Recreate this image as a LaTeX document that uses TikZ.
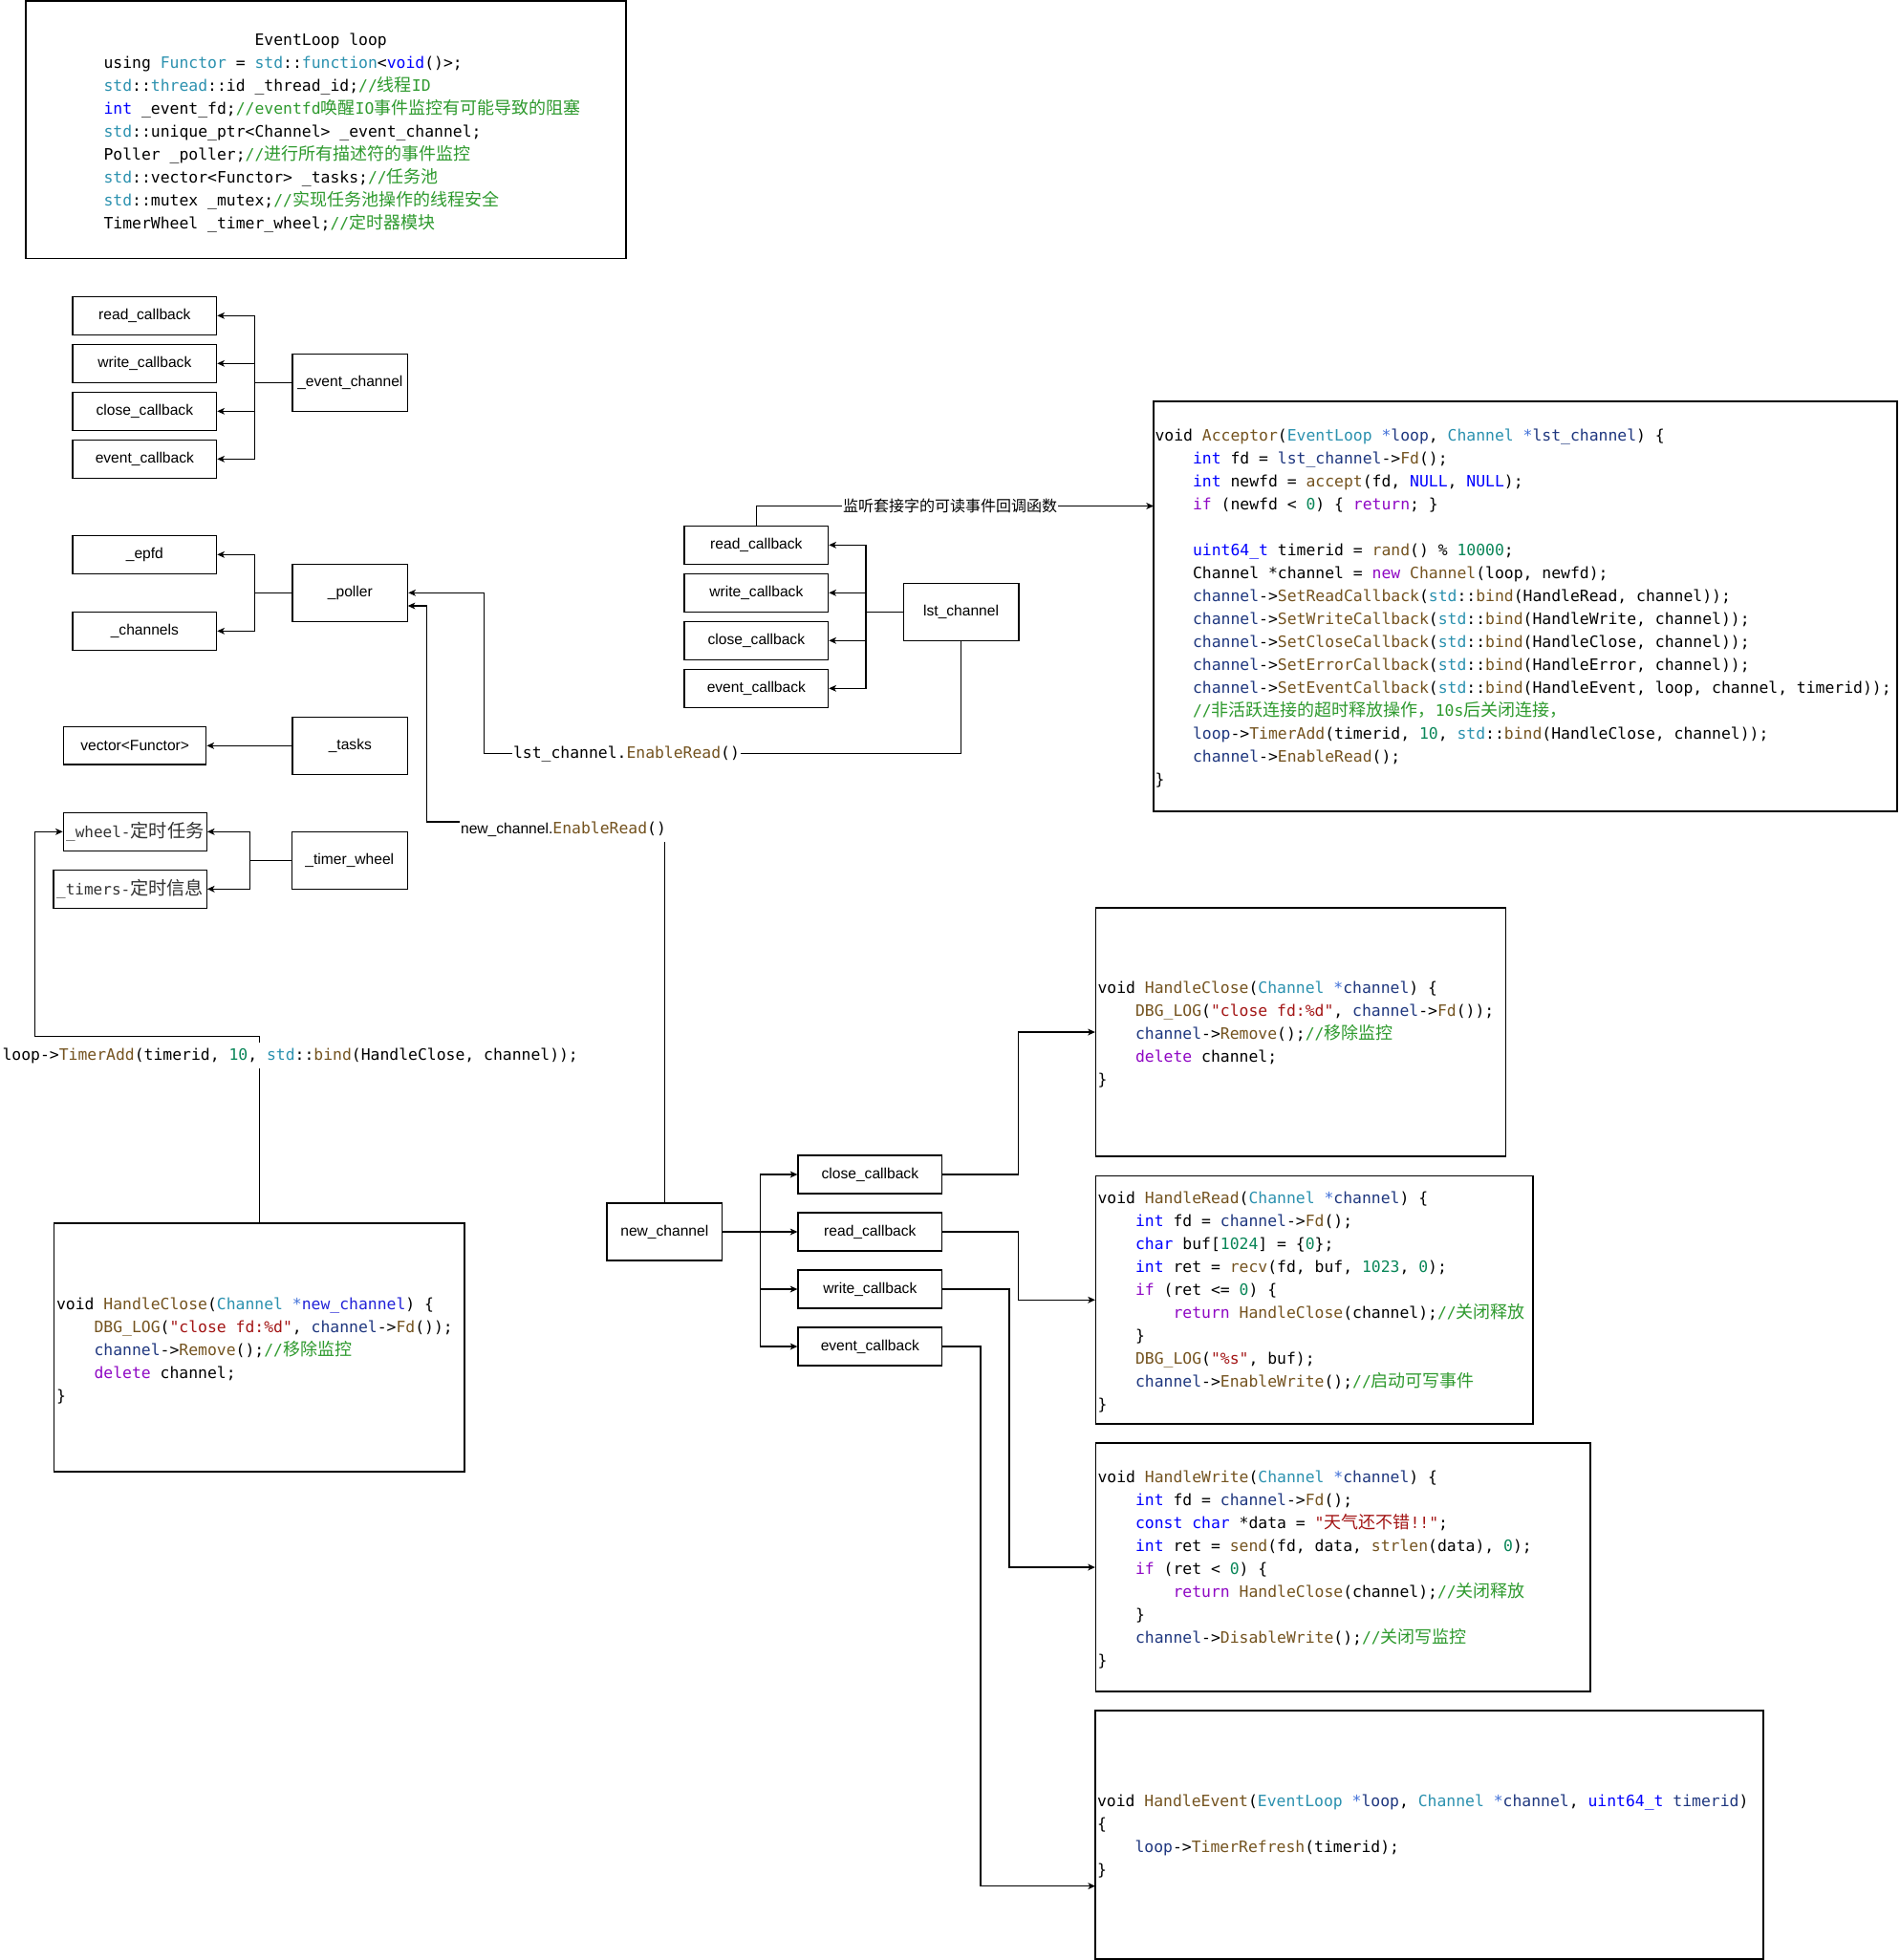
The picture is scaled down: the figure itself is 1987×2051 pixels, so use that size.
\documentclass[tikz,border=0pt]{standalone}
\usepackage{fontspec}
\setmonofont{DejaVu Sans Mono}
\newfontfamily\arialf{Liberation Sans}
\newfontfamily\zhf{Noto Sans CJK SC}
\usetikzlibrary{arrows.meta}
\definecolor{ckw}{HTML}{0000FF}
\definecolor{cty}{HTML}{2B91AF}
\definecolor{cfn}{HTML}{74531F}
\definecolor{cvar}{HTML}{1F377F}
\definecolor{cvarb}{HTML}{2323D8}
\definecolor{cstar}{HTML}{3F6FD8}
\definecolor{cctl}{HTML}{8F08C4}
\definecolor{cnum}{HTML}{098658}
\definecolor{ccom}{HTML}{2E9A2E}
\definecolor{cstr}{HTML}{A31515}
\definecolor{dgrey}{HTML}{333333}
\newcommand\kwd[1]{\textcolor{ckw}{#1}}
\newcommand\typ[1]{\textcolor{cty}{#1}}
\newcommand\fnn[1]{\textcolor{cfn}{#1}}
\newcommand\vrb[1]{\textcolor{cvar}{#1}}
\newcommand\vrbb[1]{\textcolor{cvarb}{#1}}
\newcommand\sr[1]{\textcolor{cstar}{#1}}
\newcommand\ctl[1]{\textcolor{cctl}{#1}}
\newcommand\nm[1]{\textcolor{cnum}{#1}}
\newcommand\cmt[1]{\textcolor{ccom}{#1}}
\newcommand\strg[1]{\textcolor{cstr}{#1}}
\newcommand\zh[1]{{\zhf\fontsize{9}{12}\selectfont #1}}
\newcommand\codefont{\ttfamily\fontsize{8.2}{12}\selectfont\frenchspacing}
\newcommand\lblfont{\arialf\fontsize{7.8}{9}\selectfont}
\newcommand\fst{\rule{0pt}{9pt}}
\newcommand\spA{\phantom{xxxx}}
\newcommand\spB{\phantom{xxxxxxxx}}
\begin{document}
\begin{tikzpicture}[x=0.5pt,y=-0.5pt,
  line width=0.6pt,
  arr/.style={-{Stealth[length=3.8pt,width=3.4pt,inset=1pt]}},
  bx/.style={draw, fill=white, inner sep=0pt, font=\lblfont},
  cb/.style={bx, minimum width=75.35pt, minimum height=20pt},
  chb/.style={bx, minimum width=60.35pt, minimum height=30pt},
  codebox/.style={draw, inner sep=0pt},
  ctext/.style={anchor=north west, inner sep=0pt, align=left, font=\codefont},
  elbl/.style={fill=white, inner xsep=0.5pt, inner ysep=2pt, text height=7pt, text depth=2pt, font=\codefont},
]
\useasboundingbox (0,0) rectangle (1987,2051);
\fill[white] (0,0) rectangle (1987,2051);

% ---------- top EventLoop box ----------
\node[codebox, minimum width=314pt, minimum height=134.75pt] (topbox) at (341,135.75) {};
\node[ctext] (toptext) at (108,28.5) {\fst\phantom{xxxxxxxxxxxxxxxx}EventLoop loop\\
using \typ{Functor} = \typ{std}::\typ{function}<\kwd{void}()>;\\
\typ{std}::\typ{thread}::id \_thread\_id;\cmt{//\zh{线程}ID}\\
\kwd{int} \_event\_fd;\cmt{//eventfd\zh{唤醒}IO\zh{事件监控有可能导致的阻塞}}\\
\typ{std}::unique\_ptr<Channel> \_event\_channel;\\
Poller \_poller;\cmt{//\zh{进行所有描述符的事件监控}}\\
\typ{std}::vector<Functor> \_tasks;\cmt{//\zh{任务池}}\\
\typ{std}::mutex \_mutex;\cmt{//\zh{实现任务池操作的线程安全}}\\
TimerWheel \_timer\_wheel;\cmt{//\zh{定时器模块}}};

% ---------- left structure boxes ----------
\node[cb] (rcbA) at (151.35,330.3) {read\_callback};
\node[cb] (wcbA) at (151.35,380.3) {write\_callback};
\node[cb] (ccbA) at (151.35,430.3) {close\_callback};
\node[cb] (ecbA) at (151.35,480.3) {event\_callback};
\node[chb] (evch) at (366.35,400.3) {\_event\_channel};

\node[cb] (epfd) at (151.35,580.3) {\_epfd};
\node[cb] (chans) at (151.35,660.3) {\_channels};
\node[chb] (poller) at (366.35,620.3) {\_poller};

\node[cb, minimum width=74.6pt, minimum height=19.6pt] (vecf) at (141.2,780.3) {vector<Functor>};
\node[chb] (tasks) at (366.35,780.3) {\_tasks};

\node[cb, minimum width=75pt] (wheel) at (141.3,870.3) {{\color{dgrey}\ttfamily\fontsize{8}{10}\selectfont\_wheel-{\zhf\fontsize{9.6}{10}\selectfont 定时任务}}};
\node[cb, minimum width=80.15pt] (timers) at (136.15,930.3) {{\color{dgrey}\ttfamily\fontsize{8}{10}\selectfont\_timers-{\zhf\fontsize{9.6}{10}\selectfont 定时信息}}};
\node[chb] (tw) at (365.8,900.3) {\_timer\_wheel};

% ---------- lst_channel group ----------
\node[cb] (rcbB) at (791.35,570.3) {read\_callback};
\node[cb] (wcbB) at (791.35,620.3) {write\_callback};
\node[cb] (ccbB) at (791.35,670.3) {close\_callback};
\node[cb] (ecbB) at (791.35,720.3) {event\_callback};
\node[chb] (lstch) at (1005.6,640.3) {lst\_channel};

% ---------- new_channel group ----------
\node[chb] (newch) at (695.3,1289) {new\_channel};
\node[cb] (ccbC) at (910.35,1229) {close\_callback};
\node[cb] (rcbC) at (910.35,1289) {read\_callback};
\node[cb] (wcbC) at (910.35,1349) {write\_callback};
\node[cb] (ecbC) at (910.35,1409) {event\_callback};

% ---------- code boxes ----------
\node[codebox, minimum width=389pt, minimum height=214.5pt] (acc) at (1596,634.5) {};
\node[ctext] (acctext) at (1208,443) {\fst void \fnn{Acceptor}(\typ{EventLoop} \sr{*}\vrb{loop}, \typ{Channel} \sr{*}\vrb{lst\_channel}) \{\\
\spA\kwd{int} fd = \vrb{lst\_channel}->\fnn{Fd}();\\
\spA\kwd{int} newfd = \fnn{accept}(fd, \kwd{NULL}, \kwd{NULL});\\
\spA\ctl{if} (newfd < \nm{0}) \{ \ctl{return}; \}\\
\mbox{}\\
\spA\kwd{uint64\_t} timerid = \fnn{rand}() \% \nm{10000};\\
\spA Channel *channel = \ctl{new} \fnn{Channel}(loop, newfd);\\
\spA\vrb{channel}->\fnn{SetReadCallback}(\typ{std}::\fnn{bind}(HandleRead, channel));\\
\spA\vrb{channel}->\fnn{SetWriteCallback}(\typ{std}::\fnn{bind}(HandleWrite, channel));\\
\spA\vrb{channel}->\fnn{SetCloseCallback}(\typ{std}::\fnn{bind}(HandleClose, channel));\\
\spA\vrb{channel}->\fnn{SetErrorCallback}(\typ{std}::\fnn{bind}(HandleError, channel));\\
\spA\vrb{channel}->\fnn{SetEventCallback}(\typ{std}::\fnn{bind}(HandleEvent, loop, channel, timerid));\\
\spA\cmt{//\zh{非活跃连接的超时释放操作，}10s\zh{后关闭连接，}}\\
\spA\vrb{loop}->\fnn{TimerAdd}(timerid, \nm{10}, \typ{std}::\fnn{bind}(HandleClose, channel));\\
\spA\vrb{channel}->\fnn{EnableRead}();\\
\}};

\node[codebox, minimum width=214.5pt, minimum height=130pt] (hcl) at (1361,1080) {};
\node[ctext] (hcltext) at (1148,1021) {\fst void \fnn{HandleClose}(\typ{Channel} \sr{*}\vrb{channel}) \{\\
\spA\fnn{DBG\_LOG}(\strg{"close fd:\%d"}, \vrb{channel}->\fnn{Fd}());\\
\spA\vrb{channel}->\fnn{Remove}();\cmt{//\zh{移除监控}}\\
\spA\ctl{delete} channel;\\
\}};

\node[codebox, minimum width=228.75pt, minimum height=129.75pt] (hrd) at (1375.25,1360.25) {};
\node[ctext] (hrdtext) at (1148,1241) {\fst void \fnn{HandleRead}(\typ{Channel} \sr{*}\vrb{channel}) \{\\
\spA\kwd{int} fd = \vrb{channel}->\fnn{Fd}();\\
\spA\kwd{char} buf[\nm{1024}] = \{\nm{0}\};\\
\spA\kwd{int} ret = \fnn{recv}(fd, buf, \nm{1023}, \nm{0});\\
\spA\ctl{if} (ret <= \nm{0}) \{\\
\spB\ctl{return} \fnn{HandleClose}(channel);\cmt{//\zh{关闭释放}}\\
\spA\}\\
\spA\fnn{DBG\_LOG}(\strg{"\%s"}, buf);\\
\spA\vrb{channel}->\fnn{EnableWrite}();\cmt{//\zh{启动可写事件}}\\
\}};

\node[codebox, minimum width=258.75pt, minimum height=130pt] (hwr) at (1405.25,1640) {};
\node[ctext] (hwrtext) at (1148,1533) {\fst void \fnn{HandleWrite}(\typ{Channel} \sr{*}\vrb{channel}) \{\\
\spA\kwd{int} fd = \vrb{channel}->\fnn{Fd}();\\
\spA\kwd{const} \kwd{char} *data = \strg{"\zh{天气还不错}!!"};\\
\spA\kwd{int} ret = \fnn{send}(fd, data, \fnn{strlen}(data), \nm{0});\\
\spA\ctl{if} (ret < \nm{0}) \{\\
\spB\ctl{return} \fnn{HandleClose}(channel);\cmt{//\zh{关闭释放}}\\
\spA\}\\
\spA\vrb{channel}->\fnn{DisableWrite}();\cmt{//\zh{关闭写监控}}\\
\}};

\node[codebox, minimum width=349.5pt, minimum height=130pt] (hev) at (1495.5,1920) {};
\node[ctext] (hevtext) at (1147.5,1872) {\fst void \fnn{HandleEvent}(\typ{EventLoop} \sr{*}\vrb{loop}, \typ{Channel} \sr{*}\vrb{channel}, \kwd{uint64\_t} \vrb{timerid})\\
\{\\
\spA\vrb{loop}->\fnn{TimerRefresh}(timerid);\\
\}};

\node[codebox, minimum width=214.75pt, minimum height=130pt] (lhc) at (271.25,1410) {};
\node[ctext] (lhctext) at (58.5,1352) {\fst void \fnn{HandleClose}(\typ{Channel} \sr{*}\vrbb{new\_channel}) \{\\
\spA\fnn{DBG\_LOG}(\strg{"close fd:\%d"}, \vrb{channel}->\fnn{Fd}());\\
\spA\vrb{channel}->\fnn{Remove}();\cmt{//\zh{移除监控}}\\
\spA\ctl{delete} channel;\\
\}};

% ---------- connectors ----------
\coordinate (jA) at (266.3,400.3);
\foreach \t in {rcbA,wcbA,ccbA,ecbA} \draw[arr] (evch.west) -- (jA) |- (\t.east);
\coordinate (jB) at (266.3,620.3);
\foreach \t in {epfd,chans} \draw[arr] (poller.west) -- (jB) |- (\t.east);
\draw[arr] (tasks.west) -- (vecf.east);
\coordinate (jC) at (261.3,900.3);
\foreach \t in {wheel,timers} \draw[arr] (tw.west) -- (jC) |- (\t.east);
\coordinate (jD) at (905.9,640.3);
\foreach \t in {rcbB,wcbB,ccbB,ecbB} \draw[arr] (lstch.west) -- (jD) |- (\t.east);
\coordinate (jE) at (795.2,1289);
\foreach \t in {ccbC,rcbC,wcbC,ecbC} \draw[arr] (newch.east) -- (jE) |- (\t.west);

\coordinate (accin) at (1207,529.5);
\draw[arr] (rcbB.north) |- (accin);
\coordinate (tA) at (506.3,788.7);
\draw[arr] (lstch.south) |- (tA) |- (poller.east);
\coordinate (tB) at (446.5,860);
\coordinate (pin) at (426.7,634);
\draw[arr] (newch.north) |- (tB) |- (pin);
\coordinate (tC) at (36.6,1084.3);
\draw[arr] (lhc.north) |- (tC) |- (wheel.west);

\coordinate (bA) at (1065.5,1229);
\draw[arr] (ccbC.east) -- (bA) |- (hcl.west);
\coordinate (bB) at (1065.5,1289);
\draw[arr] (rcbC.east) -- (bB) |- (hrd.west);
\coordinate (bC) at (1056,1349);
\draw[arr] (wcbC.east) -- (bC) |- (hwr.west);
\coordinate (bD) at (1026,1409);
\coordinate (hevin) at (1146,1973.6);
\draw[arr] (ecbC.east) -- (bD) |- (hevin);

% ---------- connector labels ----------
\node[elbl, anchor=base] (lblA) at (655.5,793) {lst\_channel.\fnn{EnableRead}()};
\node[elbl, anchor=base, inner ysep=2.5pt] (lblB) at (589.5,872) {{\lblfont new\_channel.}\fnn{EnableRead}()};
\node[elbl, anchor=base west, inner ysep=2.25pt] (lblC) at (1,1109.5) {loop->\fnn{TimerAdd}(timerid, \nm{10}, \typ{std}::\fnn{bind}(HandleClose, channel));};
\node[fill=white, inner sep=0.5pt, font=\zhf\fontsize{8}{10}\selectfont] (lblD) at (994,529.5) {监听套接字的可读事件回调函数};
\end{tikzpicture}
\end{document}
